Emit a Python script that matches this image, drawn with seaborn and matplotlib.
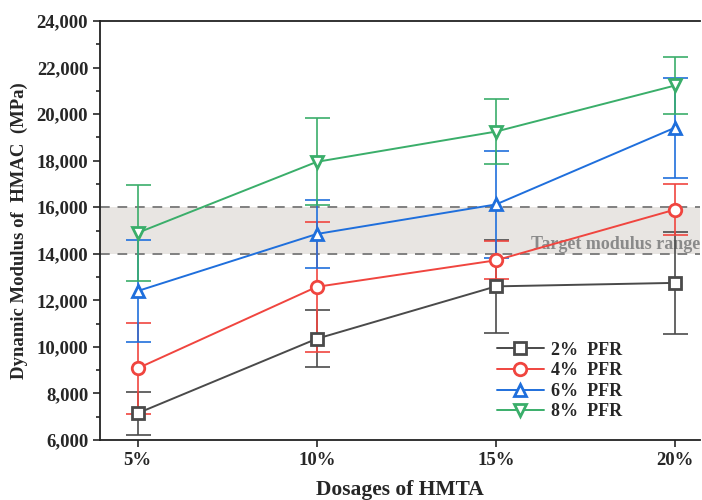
import matplotlib
matplotlib.use("Agg")
import matplotlib.pyplot as plt
import seaborn as sns
import pandas as pd
from matplotlib.ticker import MultipleLocator, FuncFormatter

dosages = ["5%", "10%", "15%", "20%"]
series = ["2%  PFR", "4%  PFR", "6%  PFR", "8%  PFR"]
pfr2 = [7150, 10350, 12600, 12750]
pfr4 = [9080, 12580, 13720, 15900]
pfr6 = [12400, 14850, 16120, 19420]
pfr8 = [14900, 17950, 19250, 21230]
err2 = [920, 1220, 2000, 2200]
err4 = [1960, 2780, 820, 1100]
err6 = [2200, 1480, 2300, 2150]
err8 = [2050, 1870, 1400, 1230]
band_low, band_high = 14000, 16000
colors = ["#4a4a4a", "#f0453f", "#1f6fdc", "#3aae6a"]
markers = ["s", "o", "^", "v"]

sns.set_theme(style="ticks")
plt.rcParams["font.family"] = ["Liberation Serif", "DejaVu Serif"]
plt.rcParams["font.weight"] = "bold"

rows = []
for s, vals in zip(series, [pfr2, pfr4, pfr6, pfr8]):
    for i, v in enumerate(vals):
        rows.append({"x": i, "y": v, "series": s})
df = pd.DataFrame(rows)

fig = plt.figure(figsize=(7.02, 5.0), dpi=100)
ax = fig.add_axes([0.1425, 0.12, 0.855, 0.838])

ax.axhspan(band_low, band_high, color="#e8e5e2", zorder=0, lw=0)
for yv in (band_low, band_high):
    ax.axhline(yv, color="#808080", ls=(0, (5, 4)), lw=1.4, zorder=1)
ax.text(3.14, 14420, "Target modulus range", color="#8a8a8a", fontsize=13,
        fontweight="bold", ha="right", va="center", zorder=1)

errs = [err2, err4, err6, err8]
for s, c, e in zip(series, colors, errs):
    sub = df[df.series == s]
    ax.errorbar(sub.x, sub.y, yerr=e, fmt="none", ecolor=c, elinewidth=1.4,
                capsize=9, capthick=1.4, alpha=0.85, zorder=2)

for s, c, m in zip(series, colors, markers):
    sub = df[df.series == s]
    sns.lineplot(data=sub, x="x", y="y", color=c, marker=m, ax=ax, label=s,
                 markersize=9, markeredgewidth=2, markeredgecolor=c,
                 markerfacecolor="white", linewidth=1.4, zorder=3)

ax.set_xlim(-0.21, 3.14)
ax.set_ylim(6000, 24000)
ax.set_xticks(range(4))
ax.set_xticklabels(dosages)
ax.yaxis.set_major_locator(MultipleLocator(2000))
ax.yaxis.set_minor_locator(MultipleLocator(1000))
ax.yaxis.set_major_formatter(FuncFormatter(lambda v, p: f"{int(v):,}"))
ax.tick_params(axis="both", which="major", direction="out", length=5, width=1.2,
               labelsize=13.5)
ax.tick_params(axis="y", which="minor", direction="out", length=3, width=1.2)
for lab in ax.get_xticklabels() + ax.get_yticklabels():
    lab.set_fontweight("bold")
ax.set_xlabel("Dosages of HMTA", fontsize=15.5, fontweight="bold", labelpad=8)
ax.set_ylabel("Dynamic Modulus of  HMAC  (MPa)", fontsize=13.5, fontweight="bold",
              labelpad=6)
for sp in ["left", "bottom", "top"]:
    ax.spines[sp].set_color("#222222")
    ax.spines[sp].set_linewidth(1.3)
ax.spines["right"].set_visible(False)

leg = ax.legend(loc="upper left", bbox_to_anchor=(0.64, 0.265), frameon=False,
                prop={"family": "Liberation Serif", "weight": "bold", "size": 13},
                handlelength=2.6, labelspacing=0.2, borderpad=0.2,
                handletextpad=0.4)
for h, c in zip(leg.legend_handles, colors):
    h.set_markeredgecolor(c)
    h.set_markerfacecolor("white")

fig.savefig("out.png", dpi=100)
